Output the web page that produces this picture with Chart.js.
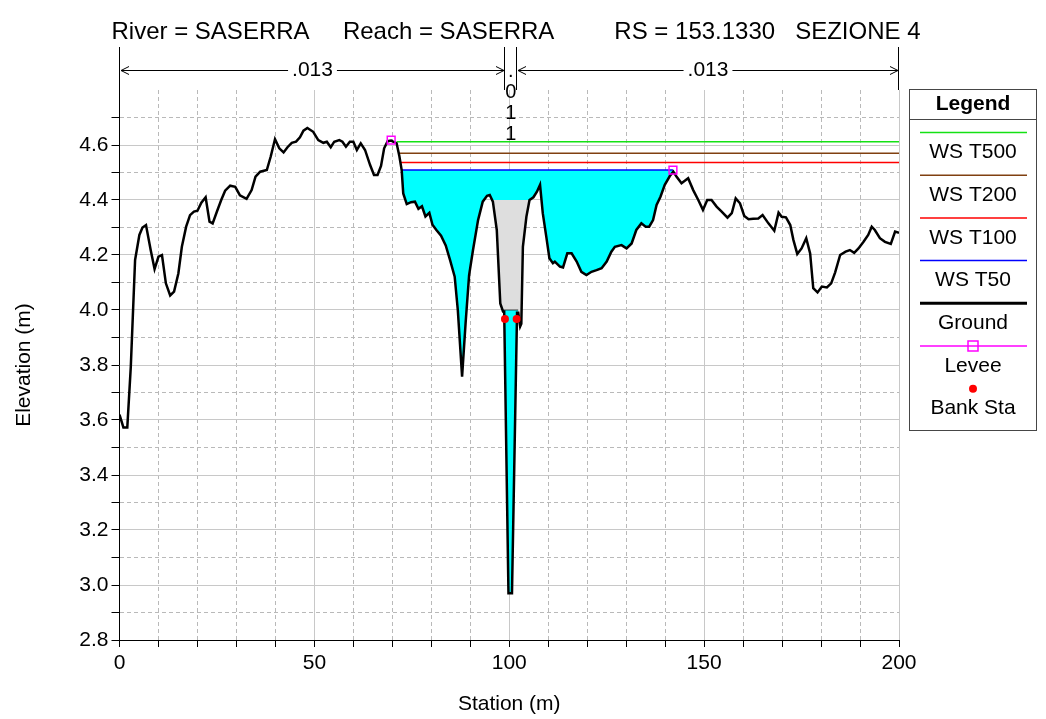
<!DOCTYPE html>
<html>
<head>
<meta charset="utf-8">
<script src="https://cdn.jsdelivr.net/npm/chart.js@4.4.0/dist/chart.umd.min.js"></script>
<style>
  html, body { margin: 0; padding: 0; background: #fff; }
</style>
</head>
<body>
<canvas id="xsChart" width="1046" height="719"></canvas>
<script>
// ground profile (station m, elevation m)
const groundStation = [0, 1.0, 2.0, 2.9, 4.0, 5.1, 5.9, 6.8, 8.0, 9.0, 10.0, 10.9, 11.9, 13.0, 14.0, 15.1, 16.0, 17.1, 18.1, 19.1,
  20.0, 21.0, 22.1, 23.1, 23.9, 25.0, 26.1, 27.1, 28.4, 29.7, 30.9, 32.6, 33.9, 34.9, 36.1, 37.8, 38.8, 39.9, 41.0, 42.1,
  43.1, 44.2, 45.3, 46.3, 47.2, 48.2, 49.7, 51.0, 52.3, 53.2, 54.2, 55.1, 56.4, 57.2, 58.1, 59.1, 60.0, 60.9, 61.9, 63.0,
  64.3, 65.3, 66.2, 67.1, 67.9, 68.8, 69.7, 70.5, 71.1, 71.8, 72.4, 72.8, 73.7, 74.8, 75.8, 76.7, 77.6, 78.5, 79.5, 80.3,
  81.3, 82.5, 83.7, 84.8, 86.0, 86.8, 87.9, 88.8, 89.7, 90.7, 92.0, 93.2, 94.3, 95.0, 95.8, 96.8, 97.7, 98.4, 98.7, 99.8,
  100.7, 102.0, 102.3, 102.8, 103.1, 103.5, 104.4, 105.2, 106.2, 107.1, 107.9, 108.6, 109.5, 110.3, 111.2, 111.7, 113.0, 113.8, 114.9, 116.0,
  117.3, 118.5, 119.8, 121.1, 122.4, 123.7, 125.0, 126.2, 127.1, 128.8, 130.1, 131.4, 132.6, 133.9, 135.0, 135.9, 136.9, 137.8, 138.8, 139.9,
  141.2, 142.1, 142.9, 144.2, 145.9, 147.2, 148.5, 149.7, 150.8, 151.9, 153.2, 154.5, 156.0, 157.1, 158.1, 159.2, 160.3, 161.4, 162.6, 163.9,
  165.0, 166.5, 168.0, 169.1, 169.9, 171.0, 172.1, 172.9, 173.9, 175.0, 176.2, 177.2, 178.0, 179.1, 180.2, 181.5, 182.6, 183.6, 184.9, 186.3,
  187.4, 188.5, 189.6, 190.9, 192.1, 193.0, 193.8, 195.1, 196.4, 197.9, 199.0, 200.0];
const groundElev = [3.620, 3.573, 3.573, 3.794, 4.182, 4.273, 4.300, 4.309, 4.218, 4.149, 4.194, 4.200, 4.097, 4.053, 4.067, 4.133, 4.230, 4.303, 4.345, 4.358,
  4.361, 4.390, 4.410, 4.321, 4.315, 4.358, 4.400, 4.434, 4.452, 4.448, 4.417, 4.404, 4.436, 4.485, 4.503, 4.509, 4.558, 4.621, 4.588, 4.573,
  4.592, 4.608, 4.612, 4.628, 4.652, 4.662, 4.648, 4.618, 4.608, 4.612, 4.592, 4.612, 4.618, 4.612, 4.594, 4.612, 4.612, 4.582, 4.606, 4.582,
  4.527, 4.491, 4.491, 4.524, 4.588, 4.614, 4.616, 4.610, 4.606, 4.560, 4.509, 4.424, 4.385, 4.392, 4.394, 4.368, 4.377, 4.340, 4.353, 4.310,
  4.291, 4.270, 4.235, 4.182, 4.121, 4.000, 3.758, 3.952, 4.127, 4.218, 4.327, 4.394, 4.415, 4.418, 4.394, 4.291, 4.024, 3.995, 3.995, 2.970,
  2.970, 3.990, 3.990, 3.940, 3.950, 4.230, 4.339, 4.400, 4.410, 4.430, 4.455, 4.352, 4.267, 4.188, 4.170, 4.176, 4.158, 4.155, 4.206, 4.206,
  4.176, 4.139, 4.127, 4.139, 4.145, 4.152, 4.176, 4.212, 4.230, 4.236, 4.224, 4.242, 4.291, 4.315, 4.303, 4.303, 4.327, 4.382, 4.412, 4.455,
  4.487, 4.503, 4.485, 4.461, 4.479, 4.436, 4.400, 4.364, 4.400, 4.400, 4.376, 4.358, 4.336, 4.352, 4.406, 4.388, 4.342, 4.330, 4.332, 4.333,
  4.345, 4.315, 4.288, 4.354, 4.339, 4.337, 4.309, 4.255, 4.204, 4.224, 4.261, 4.206, 4.079, 4.064, 4.085, 4.082, 4.097, 4.136, 4.200, 4.212,
  4.218, 4.208, 4.224, 4.248, 4.273, 4.303, 4.291, 4.261, 4.248, 4.240, 4.285, 4.281];

// water surfaces
const wsNames = ['WS T500', 'WS T200', 'WS T100', 'WS T50'];
const wsElev = [4.612, 4.570, 4.536, 4.509];
const wsFrom = [71.1, 71.5, 72.0, 72.4];
const wsTo = [200, 200, 200, 142.0];

// levees and bank stations
const leveeStation = [69.7, 142.0];
const leveeElev = [4.618, 4.509];
const bankStation = [98.9, 101.9];
const bankElev = [3.967, 3.967];

// blocked area in the main channel and the low-flow channel below it
const blockStation = [95.6, 105.2];
const blockTop = 4.40;
const lowChannelStation = [98.3, 102.3];
const lowChannelTop = 4.00;

// Manning's n per zone (left overbank, channel, right overbank)
const nValues = ['.013', '.011', '.013'];

// axes
const xTickValues = [0, 10, 20, 30, 40, 50, 60, 70, 80, 90, 100, 110, 120, 130, 140, 150, 160, 170, 180, 190, 200];
const xLabelValues = [0, 50, 100, 150, 200];
const yTickValues = [2.8, 2.9, 3.0, 3.1, 3.2, 3.3, 3.4, 3.5, 3.6, 3.7, 3.8, 3.9, 4.0, 4.1, 4.2, 4.3, 4.4, 4.5, 4.6, 4.7, 4.8];
const yLabelValues = [2.8, 3.0, 3.2, 3.4, 3.6, 3.8, 4.0, 4.2, 4.4, 4.6];

const titleText = 'River = SASERRA     Reach = SASERRA         RS = 153.1330   SEZIONE 4';

// styles
const FONT = "'Liberation Sans', Arial, sans-serif";
const wsColors = ['rgb(20,225,20)', 'rgb(128,64,16)', 'rgb(255,0,0)', 'rgb(0,0,255)'];
const waterFill = 'rgb(0,255,255)';
const blockFill = 'rgb(222,222,222)';
const majorGrid = 'rgb(200,200,200)';
const minorGrid = 'rgb(185,185,185)';

function pts(xs, ys) {
  return xs.map((x, i) => ({x: x, y: ys[i]}));
}
function flat(from, to, y) {
  return [{x: from, y: y}, {x: to, y: y}];
}
function isLabel(list, v) {
  return list.some(l => Math.abs(l - v) < 1e-6);
}

const datasets = [
  {
    label: 'Ground', data: pts(groundStation, groundElev), showLine: true,
    borderColor: '#000', borderWidth: 2.5, pointRadius: 0, fill: false, order: 2
  }
];
wsNames.forEach((name, i) => {
  const ds = {
    label: name, data: flat(wsFrom[i], wsTo[i], wsElev[i]), showLine: true,
    borderColor: wsColors[i], borderWidth: 1.5, pointRadius: 0, fill: false, order: 10 - i
  };
  if (name === 'WS T50') {
    ds.fill = {target: 0, above: waterFill, below: 'rgba(0,0,0,0)'};
    ds.backgroundColor = waterFill;
  }
  datasets.push(ds);
});
datasets.push({
  label: 'block', data: flat(blockStation[0], blockStation[1], blockTop), showLine: true,
  borderWidth: 0, borderColor: 'rgba(0,0,0,0)', pointRadius: 0,
  fill: {target: 0, above: blockFill, below: 'rgba(0,0,0,0)'}, backgroundColor: blockFill, order: 6
});
datasets.push({
  label: 'lowChannel', data: flat(lowChannelStation[0], lowChannelStation[1], lowChannelTop), showLine: true,
  borderWidth: 1, borderColor: 'rgb(60,60,60)', pointRadius: 0,
  fill: {target: 0, above: waterFill, below: 'rgba(0,0,0,0)'}, backgroundColor: waterFill, order: 5
});
datasets.push({
  label: 'Levee', data: pts(leveeStation, leveeElev), showLine: false,
  pointStyle: 'rect', pointRadius: 5.5, pointBorderWidth: 1.5, pointBorderColor: 'rgb(255,0,255)',
  pointBackgroundColor: 'rgba(0,0,0,0)', order: 1
});
datasets.push({
  label: 'Bank Sta', data: pts(bankStation, bankElev), showLine: false,
  pointStyle: 'circle', pointRadius: 4, pointBorderWidth: 0, pointBorderColor: 'rgb(255,0,0)',
  pointBackgroundColor: 'rgb(255,0,0)', order: 0
});

// title + n-value strip over the plot
const headerPlugin = {
  id: 'header',
  afterDraw(chart) {
    const ctx = chart.ctx;
    const xs = chart.scales.x;
    const top = chart.chartArea.top;
    ctx.save();
    ctx.fillStyle = '#000';
    ctx.font = '24px ' + FONT;
    ctx.textAlign = 'center';
    ctx.textBaseline = 'alphabetic';
    ctx.fillText(titleText, 516, 39);

    const edges = [0, bankStation[0], bankStation[1], 200].map(v => xs.getPixelForValue(v));
    ctx.strokeStyle = '#000';
    ctx.lineWidth = 1;
    edges.forEach(px => {
      const x = Math.round(px) - 0.5;
      ctx.beginPath();
      ctx.moveTo(x, 47);
      ctx.lineTo(x, top);
      ctx.stroke();
    });

    const y = 70.5;
    ctx.font = '21px ' + FONT;
    ctx.textBaseline = 'middle';
    [[0, 1, nValues[0]], [2, 3, nValues[2]]].forEach(z => {
      const a = Math.round(edges[z[0]]) + 1, b = Math.round(edges[z[1]]) - 1;
      const mid = (a + b) / 2;
      const half = ctx.measureText(z[2]).width / 2 + 4;
      ctx.beginPath();
      ctx.moveTo(a, y); ctx.lineTo(mid - half, y);
      ctx.moveTo(mid + half, y); ctx.lineTo(b, y);
      // arrow heads
      ctx.moveTo(a + 8, y - 4); ctx.lineTo(a, y); ctx.lineTo(a + 8, y + 4);
      ctx.moveTo(b - 8, y - 4); ctx.lineTo(b, y); ctx.lineTo(b - 8, y + 4);
      ctx.stroke();
      ctx.fillText(z[2], mid, y);
    });
    // channel n written downwards between the bank stations
    ctx.font = '20px ' + FONT;
    const cx = (edges[1] + edges[2]) / 2;
    nValues[1].split('').forEach((ch, i) => {
      ctx.fillText(ch, cx, 71 + i * 21);
    });
    ctx.restore();
  }
};

// boxed legend on the right
const legendItems = [
  {label: 'WS T500', kind: 'line', color: wsColors[0], width: 1.5},
  {label: 'WS T200', kind: 'line', color: wsColors[1], width: 1.5},
  {label: 'WS T100', kind: 'line', color: wsColors[2], width: 1.5},
  {label: 'WS T50', kind: 'line', color: wsColors[3], width: 1.5},
  {label: 'Ground', kind: 'line', color: '#000', width: 3},
  {label: 'Levee', kind: 'levee', color: 'rgb(255,0,255)', width: 1.5},
  {label: 'Bank Sta', kind: 'dot', color: 'rgb(255,0,0)', width: 0}
];
const boxLegendPlugin = {
  id: 'boxLegend',
  afterDraw(chart) {
    const ctx = chart.ctx;
    const L = 909.5, R = 1036.5, T = 89.5, B = 430.5;
    const cx = (L + R) / 2;
    ctx.save();
    ctx.strokeStyle = 'rgb(70,70,70)';
    ctx.lineWidth = 1;
    ctx.strokeRect(L, T, R - L, B - T);
    ctx.beginPath();
    ctx.moveTo(L, 119.5); ctx.lineTo(R, 119.5);
    ctx.stroke();
    ctx.fillStyle = '#000';
    ctx.textAlign = 'center';
    ctx.textBaseline = 'middle';
    ctx.font = 'bold 21px ' + FONT;
    ctx.fillText('Legend', cx, 104);
    ctx.font = '21px ' + FONT;
    legendItems.forEach((it, i) => {
      const ly = 132.5 + i * 42.7;
      ctx.strokeStyle = it.color;
      ctx.fillStyle = it.color;
      if (it.kind === 'line' || it.kind === 'levee') {
        ctx.lineWidth = it.width;
        ctx.beginPath();
        ctx.moveTo(920, ly); ctx.lineTo(1027, ly);
        ctx.stroke();
      }
      if (it.kind === 'levee') {
        ctx.strokeRect(cx - 5, ly - 5, 10, 10);
      }
      if (it.kind === 'dot') {
        ctx.beginPath();
        ctx.arc(cx, ly, 4, 0, Math.PI * 2);
        ctx.fill();
      }
      ctx.fillStyle = '#000';
      ctx.fillText(it.label, cx, ly + 20);
    });
    ctx.restore();
  }
};

const ctx = document.getElementById('xsChart');
new Chart(ctx, {
  type: 'scatter',
  data: {datasets: datasets},
  options: {
    responsive: false,
    animation: false,
    layout: {padding: {top: 90, right: 147, left: 0, bottom: 0}},
    plugins: {
      legend: {display: false},
      title: {display: false},
      tooltip: {enabled: false}
    },
    scales: {
      x: {
        type: 'linear', min: 0, max: 200,
        afterFit: s => { s.height = 79; },
        afterBuildTicks: s => { s.ticks = xTickValues.map(v => ({value: v})); },
        ticks: {
          autoSkip: false, maxRotation: 0, padding: 4, color: '#000',
          font: {family: FONT, size: 21},
          callback: v => isLabel(xLabelValues, v) ? String(v) : ''
        },
        grid: {
          color: c => isLabel(xLabelValues, c.tick.value) ? majorGrid : minorGrid,
          lineWidth: 1, tickLength: 7, tickColor: '#000'
        },
        border: {
          color: '#000', width: 1,
          dash: c => (c.tick && !isLabel(xLabelValues, c.tick.value)) ? [4, 3] : []
        },
        title: {display: true, text: 'Station (m)', color: '#000', font: {family: FONT, size: 21}, padding: {top: 0, bottom: 2}}
      },
      y: {
        type: 'linear', min: 2.8, max: 4.8,
        afterFit: s => { s.width = 119.5; },
        afterBuildTicks: s => { s.ticks = yTickValues.map(v => ({value: v})); },
        ticks: {
          autoSkip: false, padding: 3, color: '#000',
          font: {family: FONT, size: 21},
          callback: v => isLabel(yLabelValues, v) ? v.toFixed(1) : ''
        },
        grid: {
          color: c => {
            if (Math.abs(c.tick.value - 4.8) < 1e-6) return 'rgba(0,0,0,0)';
            return isLabel(yLabelValues, c.tick.value) ? majorGrid : minorGrid;
          },
          lineWidth: 1, tickLength: 8,
          tickColor: c => Math.abs(c.tick.value - 4.8) < 1e-6 ? 'rgba(0,0,0,0)' : '#000'
        },
        border: {
          color: '#000', width: 1,
          dash: c => (c.tick && !isLabel(yLabelValues, c.tick.value)) ? [4, 3] : []
        },
        title: {display: true, text: 'Elevation (m)', color: '#000', font: {family: FONT, size: 21}, padding: {top: 12, bottom: 0}}
      }
    }
  },
  plugins: [headerPlugin, boxLegendPlugin]
});
</script>
</body>
</html>
